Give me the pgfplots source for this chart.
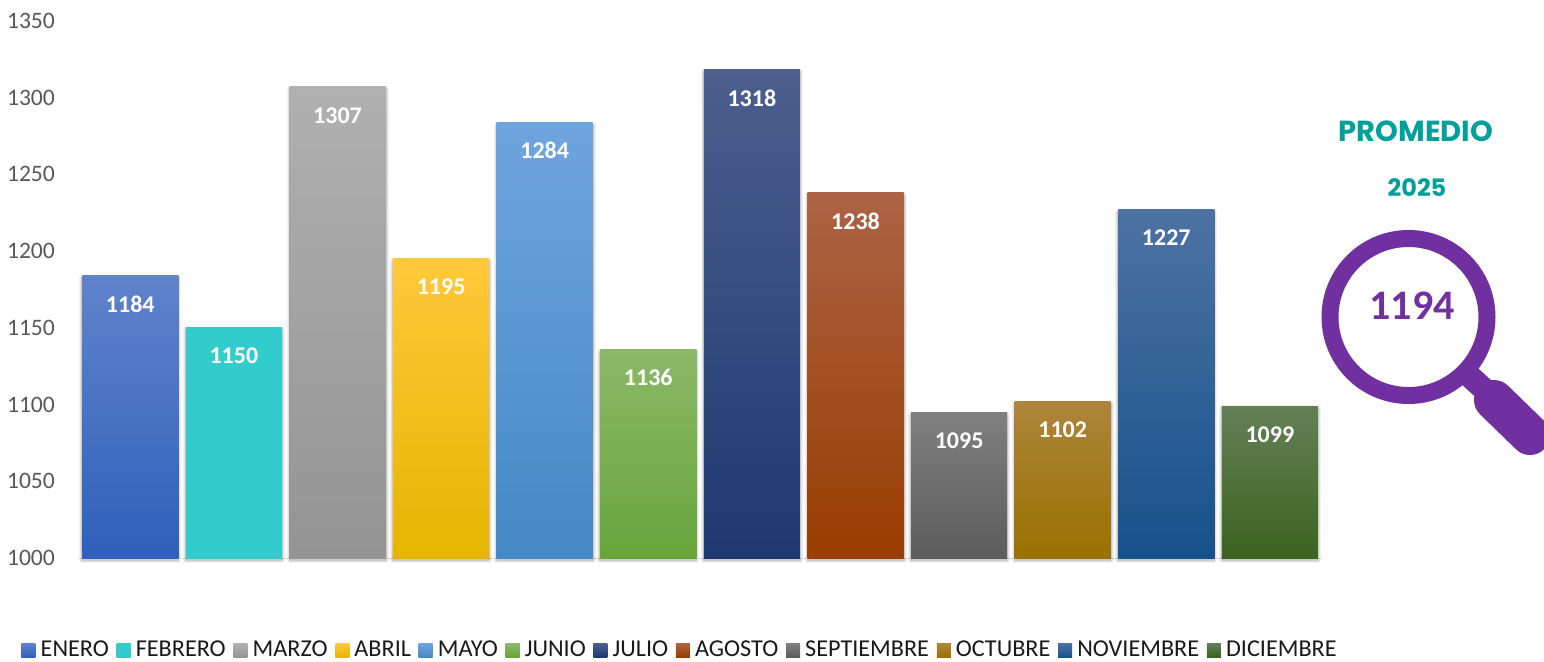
\documentclass[border=0pt]{standalone}
\usepackage{pgfplots}
\pgfplotsset{compat=1.18}
\usepackage{fontspec}
\setmainfont{Carlito}
\newfontfamily\titlefont{Poppins}
\definecolor{lbl}{HTML}{595959}
\definecolor{purp}{HTML}{7030A0}
\definecolor{teal2}{HTML}{00A09A}
\newcommand{\shadowbar}[1]{%
  \addplot[forget plot,draw=black,fill=none,line width=3pt,opacity=.05,line join=round,yshift=-1.2pt] coordinates {#1};
  \addplot[forget plot,draw=black,fill=none,line width=2pt,opacity=.07,line join=round,yshift=-1.2pt] coordinates {#1};
  \addplot[forget plot,draw=black,fill=none,line width=1pt,opacity=.10,line join=round,yshift=-1.2pt] coordinates {#1};
}
\newcommand{\mybar}[4]{%
  \addplot[draw=none,top color=#1,middle color=#2,bottom color=#3,nodes near coords] coordinates {#4};
}
\definecolor{c1a}{HTML}{6083CB}\definecolor{c1b}{HTML}{4472C4}\definecolor{c1c}{HTML}{2F60BA}
\definecolor{c2a}{HTML}{33CCCC}
\definecolor{c3a}{HTML}{B0B0B0}\definecolor{c3b}{HTML}{A5A5A5}\definecolor{c3c}{HTML}{949494}
\definecolor{c4a}{HTML}{FFC93A}\definecolor{c4b}{HTML}{FFC000}\definecolor{c4c}{HTML}{E6B400}
\definecolor{c5a}{HTML}{6FA5DE}\definecolor{c5b}{HTML}{5B9BD5}\definecolor{c5c}{HTML}{4488C6}
\definecolor{c6a}{HTML}{8BB968}\definecolor{c6b}{HTML}{70AD47}\definecolor{c6c}{HTML}{67A53B}
\definecolor{c7a}{HTML}{4C5F8E}\definecolor{c7b}{HTML}{1F3B78}\definecolor{c7c}{HTML}{1D3971}
\definecolor{c8a}{HTML}{AC6345}\definecolor{c8b}{HTML}{9E480E}\definecolor{c8c}{HTML}{993D00}
\definecolor{c9a}{HTML}{808080}\definecolor{c9b}{HTML}{6D6D6D}\definecolor{c9c}{HTML}{5C5C5C}
\definecolor{c10a}{HTML}{AE853A}\definecolor{c10b}{HTML}{9E7100}\definecolor{c10c}{HTML}{997100}
\definecolor{c11a}{HTML}{4D72A3}\definecolor{c11b}{HTML}{255E91}\definecolor{c11c}{HTML}{16528A}
\definecolor{c12a}{HTML}{648055}\definecolor{c12b}{HTML}{43682B}\definecolor{c12c}{HTML}{3C6320}
\begin{document}
\begin{tikzpicture}
\path[use as bounding box] (0,0) rectangle (772pt,-330.5pt);
\begin{axis}[
  at={(39.25pt,-279pt)},anchor=south west,
  scale only axis,width=621.6pt,height=268.6pt,
  ymin=1000,ymax=1350,ytick={1000,1050,...,1350},
  xmin=-0.5,xmax=11.5,xtick=\empty,
  clip=false,
  axis x line*=bottom,axis y line*=left,
  y axis line style={draw=none},
  x axis line style={-,draw=black!12,line width=.5pt},
  major tick length=0pt,
  /pgf/number format/assume math mode=true,
  /pgf/number format/set thousands separator={},
  ticklabel style={font=\fontsize{11.8}{14}\selectfont,text=lbl},
  yticklabel style={inner sep=0pt,xshift=-11.6pt},
  ybar,bar shift=0pt,bar width=48pt,
  every node near coord/.append style={anchor=center,yshift=-14.2pt,text=white,font=\fontsize{12}{14}\selectfont\bfseries},
  legend columns=12,
  legend cell align=left,
  legend style={at={(rel axis cs:0,0)},anchor=north west,xshift=-28.5pt,yshift=-41.5pt,draw=none,fill=none,
    inner sep=0pt,outer sep=0pt,
    font=\fontsize{12.1}{14}\selectfont,text=black!90,
    nodes={inner sep=0pt,outer sep=0pt},
    /tikz/every even column/.append style={column sep=3.85pt},
    /tikz/every odd column/.append style={column sep=2.6pt},
  },
  legend image code/.code={\path[#1,draw=none] (0,-3.5pt) rectangle (7pt,3.5pt);},
]
\shadowbar{(0,1184)}\shadowbar{(1,1150)}\shadowbar{(2,1307)}\shadowbar{(3,1195)}
\shadowbar{(4,1284)}\shadowbar{(5,1136)}\shadowbar{(6,1318)}\shadowbar{(7,1238)}
\shadowbar{(8,1095)}\shadowbar{(9,1102)}\shadowbar{(10,1227)}\shadowbar{(11,1099)}
\mybar{c1a}{c1b}{c1c}{(0,1184)}\addlegendentry{ENERO}
\mybar{c2a}{c2a}{c2a}{(1,1150)}\addlegendentry{FEBRERO}
\mybar{c3a}{c3b}{c3c}{(2,1307)}\addlegendentry{MARZO}
\mybar{c4a}{c4b}{c4c}{(3,1195)}\addlegendentry{ABRIL}
\mybar{c5a}{c5b}{c5c}{(4,1284)}\addlegendentry{MAYO}
\mybar{c6a}{c6b}{c6c}{(5,1136)}\addlegendentry{JUNIO}
\mybar{c7a}{c7b}{c7c}{(6,1318)}\addlegendentry{JULIO}
\mybar{c8a}{c8b}{c8c}{(7,1238)}\addlegendentry{AGOSTO}
\mybar{c9a}{c9b}{c9c}{(8,1095)}\addlegendentry{SEPTIEMBRE}
\mybar{c10a}{c10b}{c10c}{(9,1102)}\addlegendentry{OCTUBRE}
\mybar{c11a}{c11b}{c11c}{(10,1227)}\addlegendentry{NOVIEMBRE}
\mybar{c12a}{c12b}{c12c}{(11,1099)}\addlegendentry{DICIEMBRE}
\end{axis}
\begin{scope}[x=0.5pt,y=-0.5pt]
\node[text=teal2,font=\titlefont\fontsize{14.5}{16}\selectfont\bfseries] at (1416,131) {PROMEDIO};
\node[text=teal2,font=\titlefont\fontsize{12}{14}\selectfont\bfseries] at (1417,188) {2025};
\begin{scope}
\clip (1300,200) rectangle (1544,480);
\draw[purp,line width=8.5pt] (1408.5,317) circle (78.5);
\draw[purp,line width=11.5pt] (1465,372) -- (1497,401);
\draw[purp,line width=20pt,line cap=round] (1494,400) -- (1530,435);
\end{scope}
\node[text=purp,font=\fontsize{21}{24}\selectfont\bfseries] at (1412,306) {1194};
\end{scope}
\end{tikzpicture}
\end{document}
